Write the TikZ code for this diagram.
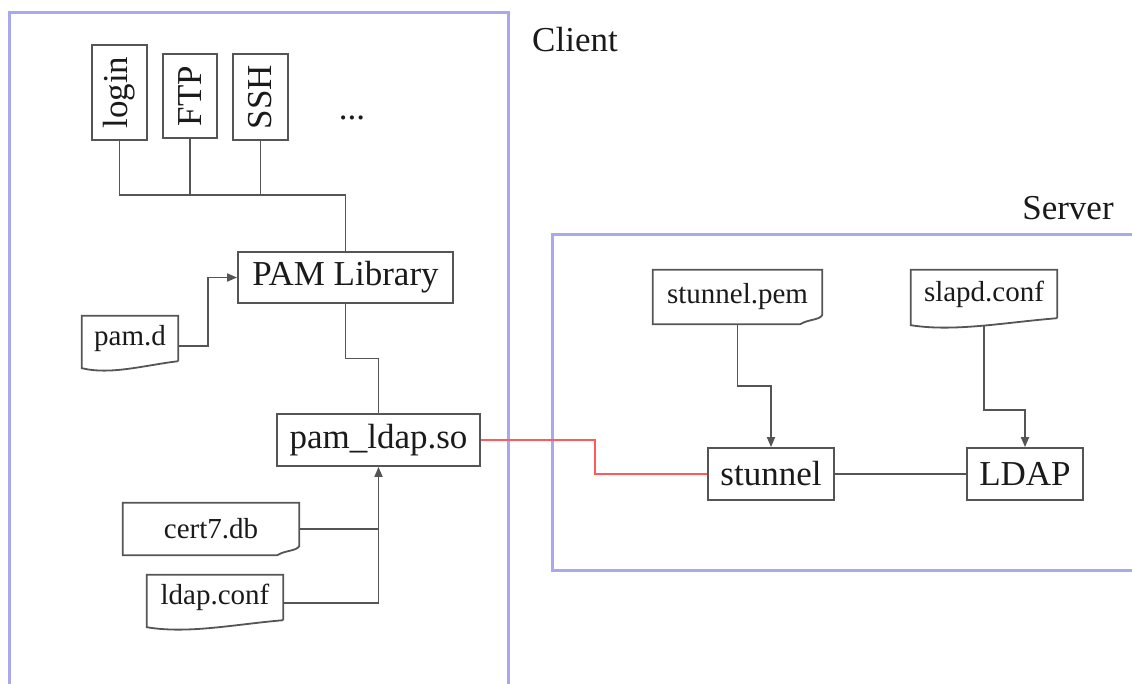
\documentclass[tikz,border=0pt]{standalone}
\usepackage{fontspec}
\setmainfont{Liberation Serif}
\usetikzlibrary{arrows.meta,calc}
\definecolor{ln}{HTML}{555555}
\definecolor{zonec}{HTML}{A8A8F0}
\definecolor{redl}{HTML}{FF5A5A}
\definecolor{txt}{HTML}{1A1A1A}
\newcommand\fbig{\fontsize{35}{40}\selectfont}
\newcommand\fsmall{\fontsize{29}{34}\selectfont}
\newcommand\wavydoc[1]{\draw[outl] (#1.south east) -- (#1.north east) -- (#1.north west) -- ($(#1.south west)+(0,7)$) .. controls ($(#1.south west)!0.3!(#1.south east)+(0,14)$) and ($(#1.south west)!0.65!(#1.south east)+(0,4)$) .. (#1.south east);}
\newcommand\folddoc[1]{\draw[outl] (#1.north west) -- (#1.north east) -- ($(#1.south east)+(0,-9)$) .. controls ($(#1.south east)+(-3,-4)$) and ($(#1.south east)+(-14,-5)$) .. ($(#1.south east)+(-22,0)$) -- (#1.south west) -- cycle;}
\tikzset{
  outl/.style={draw=ln, line width=1.8pt},
  boxn/.style={draw=ln, line width=1.8pt, inner sep=0pt, text=txt, font=\fbig},
  docn/.style={inner sep=0pt, text=txt, font=\fsmall},
  conn/.style={draw=ln, line width=1.8pt},
  arr/.style={conn, -{Triangle[length=10pt,width=8pt]}},
  zone/.style={draw=zonec, line width=3pt},
  lbl/.style={text=txt, font=\fbig, inner sep=0pt}
}
\begin{document}
\begin{tikzpicture}[x=1pt,y=-1pt]
\useasboundingbox (0,0) rectangle (1132,683);
% zones
\draw[zone] (9,700) -- (9,12) -- (508,12) -- (508,700);
\draw[zone] (1145,234) -- (552,234) -- (552,570) -- (1145,570);
\node[lbl] (client) at (575,40) {Client};
\node[lbl] (server) at (1068,208) {Server};
% top programs
\node[boxn, minimum width=55pt, minimum height=95pt] (login) at (119.5,92.5) {\rotatebox{90}{login}};
\node[boxn, minimum width=54pt, minimum height=84pt] (ftp) at (190,96) {\rotatebox{90}{FTP}};
\node[boxn, minimum width=55pt, minimum height=86pt] (ssh) at (260.5,97) {\rotatebox{90}{SSH}};
\node[lbl] (dots) at (352,118) {...};
\coordinate (bus) at (0,195);
% main boxes
\node[boxn, minimum width=215pt, minimum height=51pt] (pam) at (345.5,277.5) {PAM Library};
\node[boxn, minimum width=203pt, minimum height=52pt] (pamldap) at (378.5,440) {pam\_ldap.so};
\node[boxn, minimum width=126pt, minimum height=52pt] (stunnel) at (771,474) {stunnel};
\node[boxn, minimum width=116pt, minimum height=52pt] (ldap) at (1025,474) {LDAP};
% documents
\node[docn, minimum width=96pt, minimum height=45pt] (pamd) at (130,338.5) {\raisebox{-5pt}{pam.d}};
\node[docn, minimum width=176pt, minimum height=52pt] (cert) at (211,529) {cert7.db};
\node[docn, minimum width=136pt, minimum height=45pt] (ldapconf) at (215,597.5) {\raisebox{-3pt}{ldap.conf}};
\node[docn, minimum width=169pt, minimum height=54pt] (spem) at (737.5,297) {stunnel.pem};
\node[docn, minimum width=146pt, minimum height=48pt] (slapd) at (984,294) {\raisebox{-3pt}{slapd.conf}};
\wavydoc{pamd}
\wavydoc{ldapconf}
\wavydoc{slapd}
\folddoc{cert}
\folddoc{spem}
% connectors
\draw[conn] (login.south) -- (login.south |- bus) -| (pam.north);
\draw[conn] (ftp.south) -- (ftp.south |- bus) -| (pam.north);
\draw[conn] (ssh.south) -- (ssh.south |- bus) -| (pam.north);
\draw[arr] ($(pamd.east)+(0,7.5)$) -- ++(30,0) |- (pam.west);
\draw[conn] (pam.south) |- ($(pam.south)!0.5!(pamldap.north)$) -| (pamldap.north);
\draw[conn] (cert.east) -- (cert.east -| pamldap.south);
\draw[arr] ($(ldapconf.east)+(0,5.5)$) -| (pamldap.south);
\draw[draw=redl, line width=2pt] (pamldap.east) -- ++(114,0) |- (stunnel.west);
\draw[arr] (spem.south) -- ++(0,62) -| (stunnel.north);
\draw[arr] ($(slapd.south)+(0,7)$) -- ++(0,85) -| (ldap.north);
\draw[conn] (stunnel.east) -- (ldap.west);
\end{tikzpicture}
\end{document}
